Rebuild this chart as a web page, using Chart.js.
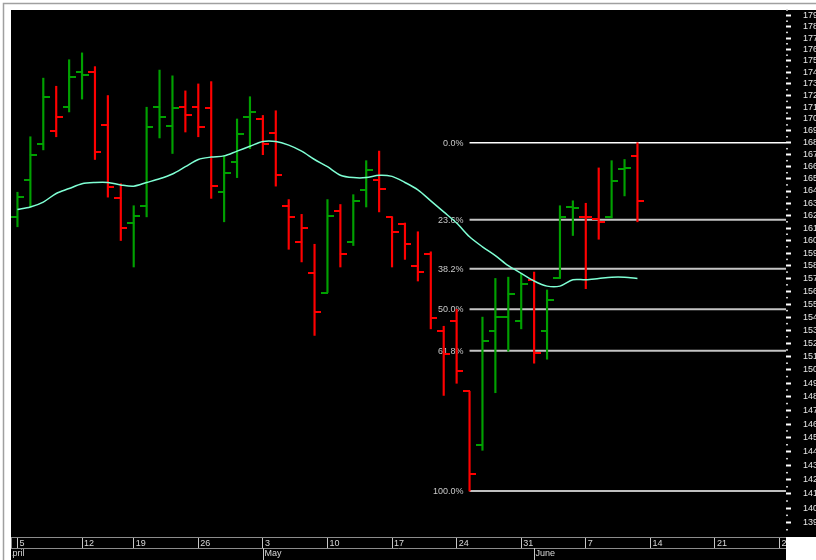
<!DOCTYPE html>
<html><head><meta charset="utf-8">
<script src="https://cdn.jsdelivr.net/npm/chart.js@4.4.1/dist/chart.umd.min.js"></script>
<style>html,body{margin:0;padding:0;background:#fff;overflow:hidden}canvas{display:block}</style>
</head><body>
<canvas id="c" width="816" height="560"></canvas>
<script>
// ---- categories (trading days + empty future slots) ----
const dates = ['2021-04-05','2021-04-06','2021-04-07','2021-04-08','2021-04-09',
'2021-04-12','2021-04-13','2021-04-14','2021-04-15',
'2021-04-19','2021-04-20','2021-04-21','2021-04-22','2021-04-23',
'2021-04-26','2021-04-27','2021-04-28','2021-04-29','2021-04-30',
'2021-05-03','2021-05-04','2021-05-05','2021-05-06','2021-05-07',
'2021-05-10','2021-05-11','2021-05-12','2021-05-13','2021-05-14',
'2021-05-17','2021-05-18','2021-05-19','2021-05-20','2021-05-21',
'2021-05-24','2021-05-25','2021-05-26','2021-05-27','2021-05-28',
'2021-05-31','2021-06-01','2021-06-02','2021-06-03','2021-06-04',
'2021-06-07','2021-06-08','2021-06-09','2021-06-10','2021-06-11',
'2021-06-14','2021-06-15','2021-06-16','2021-06-17','2021-06-18',
'2021-06-21','2021-06-22','2021-06-23','2021-06-24','2021-06-25',
'2021-06-28'];

// ---- OHLC series ----
const opens  = [161.9,164.9,167.9,169.0,171.0,174.0,174.0,169.5,163.4,161.4,162.8,171.0,169.4,171.0,171.0,170.9,163.9,166.4,170.2,170.0,168.8,162.8,159.9,157.4,155.9,162.4,159.9,164.1,164.9,161.9,161.3,158.0,158.9,152.9,153.7,148.4,144.5,152.9,154.0,153.7,156.9,152.9,157.0,162.7,161.9,161.7,161.9,165.8,166.9];
const highs  = [163.9,168.5,173.5,172.8,175.1,175.7,174.5,172.0,164.6,162.8,171.0,174.2,173.7,172.4,173.0,173.2,166.9,170.0,171.9,170.3,170.7,163.3,162.1,159.7,163.3,162.9,163.7,166.5,167.3,161.9,161.4,160.7,159.1,153.3,154.6,148.4,154.0,157.0,157.1,157.4,157.5,156.1,162.8,163.2,163.0,165.9,166.5,166.6,168.0];
const lows   = [161.1,162.7,167.4,168.5,170.6,171.7,166.6,163.5,160.0,157.9,161.9,168.4,167.1,168.9,168.5,163.4,161.5,165.1,167.5,167.0,164.4,159.3,158.3,152.6,155.9,157.9,159.6,162.7,162.3,157.9,158.5,156.8,153.1,148.1,149.0,141.2,144.1,148.3,151.4,153.1,150.5,150.8,157.0,160.4,156.2,160.1,161.8,163.6,161.5];
const closes = [163.5,167.0,171.9,170.2,173.6,173.8,167.2,164.3,161.0,162.0,169.3,170.2,170.9,170.3,169.3,164.4,165.5,168.7,170.6,167.9,165.3,161.9,161.0,154.4,162.0,158.9,163.2,165.7,164.2,160.7,159.7,157.5,153.9,151.2,149.9,142.4,152.2,154.0,155.8,156.6,151.3,155.3,161.9,162.6,161.9,161.5,164.8,165.9,163.2];
// ---- moving average ----
const sma = [162.5,162.7,163.1,163.8,164.2,164.6,164.7,164.7,164.5,164.4,164.7,165.0,165.4,166.0,166.6,166.8,166.9,167.3,167.7,168.1,168.1,167.8,167.3,166.6,166.0,165.3,165.1,165.1,165.3,165.2,164.7,164.1,163.2,162.3,161.4,160.3,159.5,158.8,158.0,157.4,156.8,156.4,156.4,156.9,156.9,157.0,157.1,157.1,157.0];
// ---- tick labels ----
const yTicks = [139,140,141,142,143,144,145,146,147,148,149,150,151,152,153,154,155,156,157,158,159,160,161,162,163,164,165,166,167,168,169,170,171,172,173,174,175,176,177,178,179];
const monthNames = ['January','February','March','April','May','June','July','August','September','October','November','December'];
// ---- Fibonacci retracement ----
const fibRatios = [0, 23.6, 38.2, 50, 61.8, 100];
const fibLowIndex = 35, fibHighIndex = 48;

const parsed = dates.map(d => new Date(d + 'T00:00:00Z'));
const weekStart = parsed.map((d,i) => i === 0 || d.getUTCDay() < parsed[i-1].getUTCDay());
const monthStarts = [];
parsed.forEach((d,i) => { if (i > 0 && d.getUTCMonth() !== parsed[i-1].getUTCMonth()) monthStarts.push(i); });

const UP = '#00a000', DN = '#ff0000';
const isUp = closes.map((c,i) => i === 0 ? c >= opens[0] : c >= closes[i-1]);

function tickImg(color, side) {
  const cv = document.createElement('canvas');
  cv.width = 13; cv.height = 2;
  const g = cv.getContext('2d');
  g.fillStyle = color;
  if (side === 'L') g.fillRect(0, 0, 7, 2); else g.fillRect(6, 0, 7, 2);
  return cv;
}
const imgs = { UL: tickImg(UP,'L'), DL: tickImg(DN,'L'), UR: tickImg(UP,'R'), DR: tickImg(DN,'R') };

const FONT = '"Liberation Sans", Arial, sans-serif';

const framePlugin = {
  id: 'frame',
  beforeDraw(chart) {
    const ctx = chart.ctx, W = chart.width, H = chart.height, ca = chart.chartArea;
    ctx.save();
    ctx.fillStyle = '#ffffff'; ctx.fillRect(0, 0, W, H);
    ctx.fillStyle = '#000000';
    ctx.fillRect(ca.left, ca.top, W - ca.left, ca.bottom - ca.top);
    ctx.fillRect(ca.left, ca.bottom, ca.right - ca.left, H - ca.bottom);
    ctx.strokeStyle = '#a0a0a0'; ctx.lineWidth = 1.5;
    ctx.beginPath(); ctx.moveTo(3.5, H); ctx.lineTo(3.5, 3.5); ctx.lineTo(W, 3.5); ctx.stroke();
    ctx.restore();
  }
};

const fibPlugin = {
  id: 'fib',
  beforeDatasetsDraw(chart) {
    const ctx = chart.ctx, xs = chart.scales.x, ys = chart.scales.y, ca = chart.chartArea;
    const hi = highs[fibHighIndex], lo = lows[fibLowIndex];
    const x0 = xs.getPixelForValue(fibLowIndex);
    ctx.save();
    ctx.font = '9px ' + FONT;
    ctx.textAlign = 'right'; ctx.textBaseline = 'middle';
    fibRatios.forEach(r => {
      const v = hi - (hi - lo) * r / 100;
      const y = ys.getPixelForValue(v);
      const edge = (r === 0 || r === 100);
      ctx.strokeStyle = edge ? '#ffffff' : '#c4c4c4';
      ctx.lineWidth = edge ? 1.5 : 2;
      ctx.beginPath(); ctx.moveTo(x0, y); ctx.lineTo(ca.right, y); ctx.stroke();
      ctx.fillStyle = '#c8c8c8';
      ctx.fillText(r.toFixed(1) + '%', x0 - 6, y + 0.5);
    });
    ctx.restore();
  }
};

const axisPlugin = {
  id: 'axisdeco',
  afterDraw(chart) {
    const ctx = chart.ctx, xs = chart.scales.x, ys = chart.scales.y, ca = chart.chartArea;
    const W = chart.width, H = chart.height;
    ctx.save();
    // minor ticks on the price axis
    ctx.fillStyle = '#d0d0d0';
    for (let v = yTicks[0] - 0.5; v <= yTicks[yTicks.length-1] + 0.5; v += 1) {
      const y = ys.getPixelForValue(v);
      if (y >= ca.top && y <= ca.bottom) ctx.fillRect(ca.right, y - 0.75, 2, 1.5);
    }
    // month row
    const rowY = ca.bottom + 11;
    ctx.strokeStyle = '#8c8c8c'; ctx.lineWidth = 1;
    ctx.beginPath(); ctx.moveTo(ca.left, rowY + 0.5); ctx.lineTo(ca.right, rowY + 0.5); ctx.stroke();
    ctx.beginPath(); ctx.moveTo(ca.left + 0.5, ca.bottom); ctx.lineTo(ca.left + 0.5, rowY); ctx.stroke();
    ctx.beginPath(); ctx.rect(ca.left + 1, rowY, ca.right - ca.left - 1, H - rowY); ctx.clip();
    const months = [{idx: -1, m: parsed[0].getUTCMonth()}].concat(monthStarts.map(i => ({idx: i, m: parsed[i].getUTCMonth()})));
    ctx.font = '9px ' + FONT; ctx.textAlign = 'left'; ctx.textBaseline = 'middle';
    months.forEach(o => {
      const x = Math.round(xs.getPixelForValue(o.idx)) + 0.5;
      ctx.strokeStyle = '#c8c8c8';
      ctx.beginPath(); ctx.moveTo(x, rowY); ctx.lineTo(x, H); ctx.stroke();
      ctx.fillStyle = '#d8d8d8';
      ctx.fillText(monthNames[o.m], x + 1, rowY + 6);
    });
    ctx.restore();
    ctx.save();
    ctx.fillStyle = '#ffffff';
    ctx.fillRect(ca.right, ca.bottom, W - ca.right, H - ca.bottom);
    ctx.restore();
  }
};

new Chart(document.getElementById('c'), {
  type: 'bar',
  data: {
    labels: dates,
    datasets: [
      { type: 'line', label: 'MA', data: sma, borderColor: '#7fffd4', borderWidth: 1.5, pointRadius: 0, tension: 0.3, order: 1 },
      { type: 'line', label: 'Open', data: opens, showLine: false, pointRadius: 4,
        pointStyle: c => isUp[c.dataIndex] ? imgs.UL : imgs.DL, order: 2 },
      { type: 'line', label: 'Close', data: closes, showLine: false, pointRadius: 4,
        pointStyle: c => isUp[c.dataIndex] ? imgs.UR : imgs.DR, order: 2 },
      { type: 'bar', label: 'Range', data: lows.map((l,i) => [l, highs[i]]),
        backgroundColor: isUp.map(u => u ? UP : DN), borderWidth: 0, barThickness: 1.5, grouped: false, order: 3 }
    ]
  },
  options: {
    responsive: false, animation: false, devicePixelRatio: 1,
    layout: { padding: { left: 11, top: 10, right: 0, bottom: 0 } },
    plugins: { legend: { display: false }, tooltip: { enabled: false } },
    scales: {
      x: {
        type: 'category', offset: true,
        afterFit: ax => { ax.height = 23; ax.paddingLeft = 0; ax.paddingRight = 0; },
        grid: { offset: false, drawOnChartArea: false, drawTicks: true, tickLength: 11, lineWidth: 1,
                color: c => weekStart[c.index] ? '#c8c8c8' : 'rgba(0,0,0,0)' },
        border: { display: true, color: '#8c8c8c', width: 1 },
        ticks: { autoSkip: false, maxRotation: 0, minRotation: 0, align: 'start', labelOffset: 2, padding: -10,
                 color: '#d8d8d8', font: { family: FONT, size: 9 },
                 callback: (v, i) => weekStart[i] ? String(parsed[i].getUTCDate()) : '' }
      },
      y: {
        type: 'logarithmic', position: 'right', min: 138.0, max: 179.5,
        afterBuildTicks: ax => { ax.ticks = yTicks.map(v => ({ value: v })); },
        afterFit: ax => { ax.width = 30; ax.paddingTop = 0; ax.paddingBottom = 0; },
        grid: { drawOnChartArea: false, drawTicks: true, tickLength: 5, tickColor: '#ffffff', tickWidth: 2 },
        border: { display: false },
        ticks: { autoSkip: false, padding: 12, color: '#e8e8e8', font: { family: FONT, size: 9 },
                 callback: v => String(v) }
      }
    }
  },
  plugins: [framePlugin, fibPlugin, axisPlugin]
});
</script>
</body></html>
